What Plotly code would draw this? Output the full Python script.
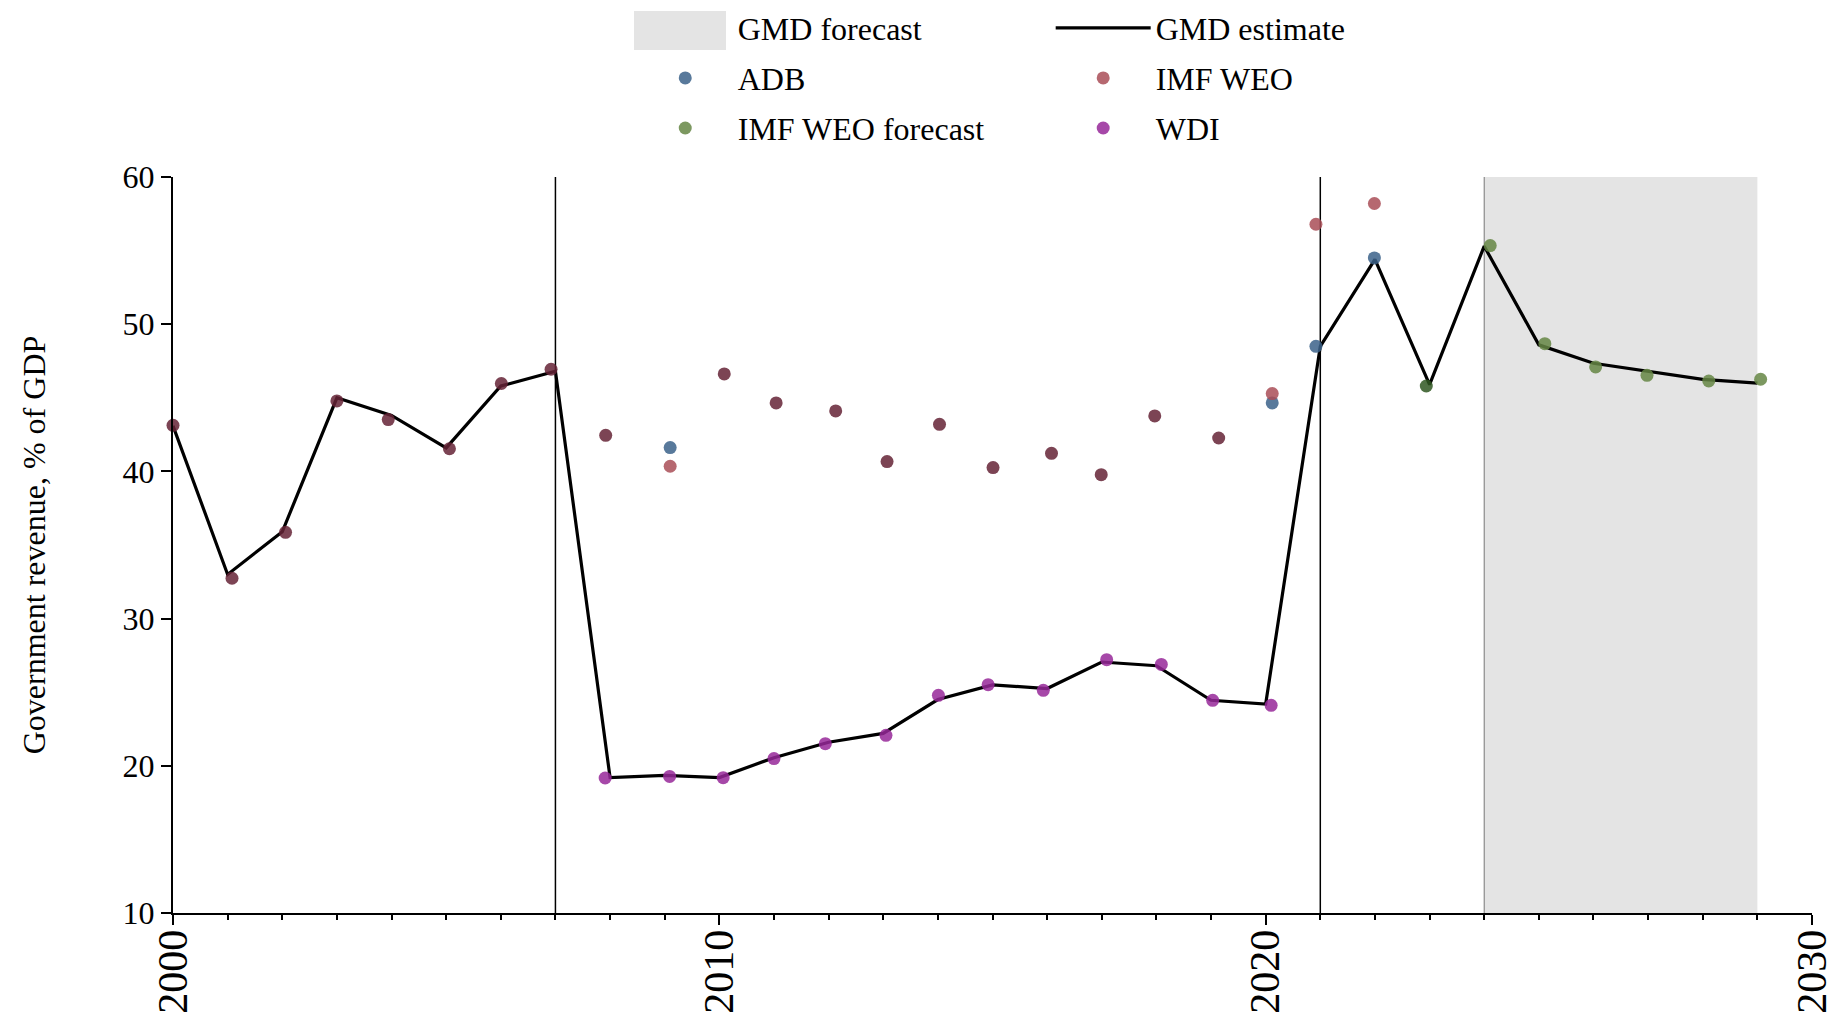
import plotly.graph_objects as go

# ---------------- data ----------------
gmd_years = list(range(2000, 2030))
gmd_estimate = [43.1, 33.0, 35.9, 45.0, 43.8, 41.6, 45.8, 46.8, 19.2, 19.35,
                19.2, 20.55, 21.6, 22.2, 24.5, 25.5, 25.25, 27.05, 26.8, 24.45,
                24.2, 48.5, 54.4, 45.9, 55.3, 48.6, 47.35, 46.8, 46.25, 46.0]

# dot positions (years, slightly jittered in the source chart) and values
adb_x = [2009.10, 2020.12, 2020.92, 2021.99]
adb_y = [41.62, 44.65, 48.5, 54.5]

imf_weo_x = [2009.10, 2020.12, 2020.92, 2021.99]
imf_weo_y = [40.35, 45.29, 56.79, 58.2]

# IMF WEO points where several sources coincide (darker dots)
imf_weo_overlap_x = [2000.0, 2001.08, 2002.06, 2003.0, 2003.94, 2005.06, 2006.01, 2006.92,
                     2007.92, 2010.09, 2011.04, 2012.13, 2013.07, 2014.03, 2015.01,
                     2016.08, 2016.99, 2017.97, 2019.14]
imf_weo_overlap_y = [43.13, 32.74, 35.86, 44.79, 43.52, 41.54, 45.97, 46.94,
                     42.45, 46.62, 44.65, 44.11, 40.67, 43.2, 40.26,
                     41.23, 39.78, 43.77, 42.27]

imf_fc_x = [2024.11, 2025.11, 2026.04, 2026.98, 2028.11, 2029.06]
imf_fc_y = [55.34, 48.68, 47.1, 46.53, 46.14, 46.26]
imf_fc_overlap_x = [2022.94]
imf_fc_overlap_y = [45.8]

wdi_x = [2007.91, 2009.09, 2010.07, 2011.0, 2011.94, 2013.05, 2014.01, 2014.92,
         2015.93, 2017.09, 2018.09, 2019.03, 2020.10]
wdi_y = [19.17, 19.28, 19.19, 20.49, 21.5, 22.07, 24.79, 25.51,
         25.13, 27.21, 26.89, 24.45, 24.11]

break_years = [2007, 2021]
forecast_start, forecast_end = 2024, 2029

x_range = [2000, 2030]
y_range = [10, 60]
x_ticks = [2000, 2010, 2020, 2030]
y_ticks = [10, 20, 30, 40, 50, 60]

# ---------------- figure ----------------
FONT = "Liberation Serif, Times New Roman, serif"
FORECAST_GREY = "#e4e4e4"
W, H = 1837, 1018
M = dict(l=173, r=25, t=177, b=105)
plot_w = W - M["l"] - M["r"]
plot_h = H - M["t"] - M["b"]

fig = go.Figure()

# legend entry for the shaded forecast period (the area itself is a layout shape;
# its wide legend swatch is drawn as a paper-referenced box next to the entry)
fig.add_trace(go.Scatter(x=[None], y=[None], mode="lines",
                         line=dict(color="rgba(0,0,0,0)", width=2),
                         name="GMD forecast", legend="legend",
                         legendgroup="f", legendrank=1, hoverinfo="skip"))

fig.add_trace(go.Scatter(x=gmd_years, y=gmd_estimate, mode="lines",
                         line=dict(color="black", width=3.2),
                         name="GMD estimate", legend="legend2",
                         legendgroup="e", legendrank=1))

def dots(x, y, color, name, legend, rank, show=True):
    return go.Scatter(x=x, y=y, mode="markers", name=name,
                      marker=dict(color=color, size=13, opacity=0.85, line=dict(width=0)),
                      legend=legend, legendgroup=name + legend + str(show),
                      legendrank=rank, showlegend=show, cliponaxis=False)

fig.add_trace(dots(imf_weo_overlap_x, imf_weo_overlap_y, "#652336", "IMF WEO", "legend2", 50, False))
fig.add_trace(dots(imf_fc_overlap_x, imf_fc_overlap_y, "#2f5721", "IMF WEO forecast", "legend", 50, False))
fig.add_trace(dots(adb_x, adb_y, "#3b6289", "ADB", "legend", 2))
fig.add_trace(dots(imf_weo_x, imf_weo_y, "#a94d57", "IMF WEO", "legend2", 2))
fig.add_trace(dots(imf_fc_x, imf_fc_y, "#658644", "IMF WEO forecast", "legend", 3))
fig.add_trace(dots(wdi_x, wdi_y, "#962899", "WDI", "legend2", 3))

def px_to_paper_x(px):
    return (px - M["l"]) / plot_w

def px_to_paper_y(py):
    return (H - M["b"] - py) / plot_h

shapes = [dict(type="rect", xref="x", yref="paper", x0=forecast_start, x1=forecast_end,
               y0=0, y1=1, fillcolor=FORECAST_GREY, line=dict(width=0), layer="below"),
          dict(type="line", xref="x", yref="paper", x0=forecast_start, x1=forecast_start,
               y0=0, y1=1, line=dict(color="#777777", width=1), layer="below"),
          # legend swatch box for "GMD forecast"
          dict(type="rect", xref="paper", yref="paper",
               x0=px_to_paper_x(634), x1=px_to_paper_x(726),
               y0=px_to_paper_y(50), y1=px_to_paper_y(11),
               fillcolor=FORECAST_GREY, line=dict(width=0), layer="below")]
for b in break_years:
    shapes.append(dict(type="line", xref="x", yref="paper", x0=b, x1=b, y0=0, y1=1,
                       line=dict(color="black", width=1.5), layer="below"))

legend_common = dict(xanchor="left", yanchor="top", yref="container", y=1 - 0.5 / H,
                     font=dict(family=FONT, size=32, color="black"),
                     itemwidth=95, tracegroupgap=5.5, traceorder="grouped",
                     bgcolor="rgba(0,0,0,0)", borderwidth=0)

fig.update_layout(
    width=W, height=H,
    margin=M,
    paper_bgcolor="white", plot_bgcolor="white",
    font=dict(family=FONT, color="black"),
    shapes=shapes,
    legend=dict(x=0.2805, **legend_common),
    legend2=dict(x=0.5355, **legend_common),
    xaxis=dict(range=x_range, tickvals=x_ticks, ticktext=[str(t) for t in x_ticks],
               tickangle=-90, tickfont=dict(family=FONT, size=42, color="black"),
               automargin=False, ticklabelstandoff=-12,
               showgrid=False, zeroline=False, showline=True, linecolor="black",
               linewidth=2, ticks="outside", ticklen=10, tickwidth=2, tickcolor="black",
               minor=dict(dtick=1, ticks="outside", ticklen=5, tickwidth=1.5,
                          tickcolor="black", showgrid=False)),
    yaxis=dict(range=y_range, tickvals=y_ticks, tickfont=dict(family=FONT, size=32, color="black"),
               automargin=False,
               showgrid=False, zeroline=False, showline=True, linecolor="black",
               linewidth=2, ticks="outside", ticklen=10, tickwidth=2, tickcolor="black",
               title=dict(text="Government revenue, % of GDP",
                          font=dict(family=FONT, size=32, color="black"), standoff=67)),
    showlegend=True,
)

fig.write_html("out.html", config=dict(displayModeBar=False),
               post_script="document.body.style.margin='0px';")
